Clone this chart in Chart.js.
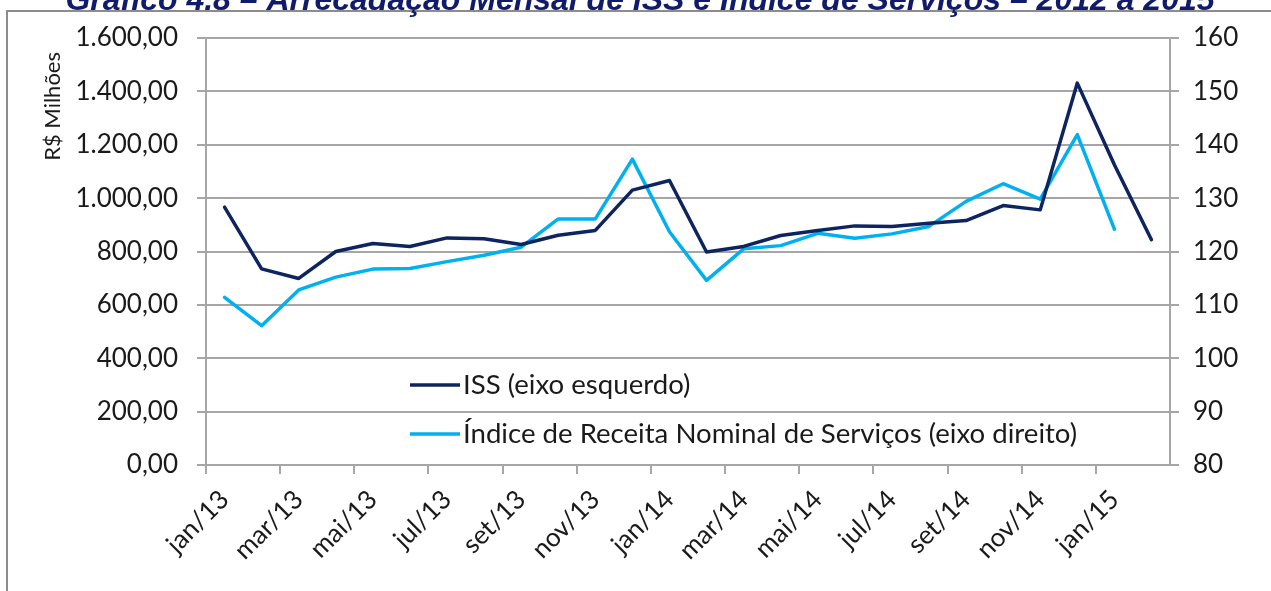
<!DOCTYPE html>
<html>
<head>
<meta charset="utf-8">
<script src="https://cdn.jsdelivr.net/npm/chart.js@4/dist/chart.umd.min.js"></script>
<style>
  html, body { margin: 0; padding: 0; background: #fff; }
  canvas { display: block; }
</style>
</head>
<body>
<canvas id="chart" width="1271" height="591"></canvas>
<script>
const months = ['jan/13', 'fev/13', 'mar/13', 'abr/13', 'mai/13', 'jun/13', 'jul/13', 'ago/13', 'set/13', 'out/13', 'nov/13', 'dez/13',
    'jan/14', 'fev/14', 'mar/14', 'abr/14', 'mai/14', 'jun/14', 'jul/14', 'ago/14', 'set/14', 'out/14', 'nov/14', 'dez/14',
    'jan/15', 'fev/15'];
const issValues = [966, 735, 699, 800, 830, 819, 851, 848, 826, 861, 879, 1030,
    1066, 798, 819, 860, 879, 896, 894, 906, 916, 972, 956, 1431,
    1125, 844];
const indiceValues = [111.4, 106.1, 112.8, 115.2, 116.7, 116.8, 118.1, 119.3, 120.8, 126.1, 126.1, 137.3,
    123.7, 114.6, 120.5, 121.1, 123.4, 122.5, 123.3, 124.7, 129.4, 132.7, 129.8, 141.9,
    124.2];
const leftTicks = [0, 1600, 200];   // min, max, step
const rightTicks = [80, 160, 10];

const titleText = 'Gráfico 4.8 – Arrecadação Mensal de ISS e Índice de Serviços – 2012 a 2015';
const yTitle = 'R$ Milhões';
const gridGray = '#a6a6a6';
const textColor = '#1a1a1a';

function fmtBR(v) {
    const parts = v.toFixed(2).split('.');
    parts[0] = parts[0].replace(/\B(?=(\d{3})+(?!\d))/g, '.');
    return parts.join(',');
}

// frame + cut-off title behind the chart
const framePlugin = {
    id: 'frame',
    beforeDraw(chart) {
        const ctx = chart.ctx;
        ctx.save();
        ctx.strokeStyle = '#8c8c8c';
        ctx.lineWidth = 2;
        ctx.beginPath();
        ctx.moveTo(7, chart.height);
        ctx.lineTo(7, 11);
        ctx.lineTo(chart.width, 11);
        ctx.stroke();
        ctx.fillStyle = '#101c6a';
        ctx.font = 'italic bold 32px "Liberation Sans", Arial, sans-serif';
        ctx.textAlign = 'center';
        ctx.textBaseline = 'alphabetic';
        ctx.fillText(titleText, 640, 10);
        ctx.restore();
    }
};

// legend inside the plot area + axis title near the top, like the Excel original
const innerLegend = {
    id: 'innerLegend',
    afterDraw(chart) {
        const ctx = chart.ctx;
        const area = chart.chartArea;
        ctx.save();
        ctx.font = '27.6px Lato, sans-serif';
        ctx.textBaseline = 'middle';
        ctx.textAlign = 'left';
        chart.data.datasets.forEach((ds, i) => {
            const y = area.top + 347 + i * 49;
            const x = area.left + 204;
            ctx.strokeStyle = ds.borderColor;
            ctx.lineWidth = 3.5;
            ctx.beginPath();
            ctx.moveTo(x, y);
            ctx.lineTo(x + 50, y);
            ctx.stroke();
            ctx.fillStyle = textColor;
            ctx.fillText(ds.label, x + 53, y);
        });

        ctx.translate(53, area.top + 14);
        ctx.rotate(-Math.PI / 2);
        ctx.font = '22px Lato, sans-serif';
        ctx.textAlign = 'right';
        ctx.fillText(yTitle, 0, 0);
        ctx.restore();
    }
};

new Chart(document.getElementById('chart'), {
    type: 'line',
    data: {
        labels: months,
        datasets: [{
            label: 'ISS (eixo esquerdo)',
            data: issValues,
            yAxisID: 'y',
            borderColor: '#0e2461',
            backgroundColor: '#0e2461',
            borderWidth: 3.5,
            pointRadius: 0,
            borderJoinStyle: 'round',
            borderCapStyle: 'round',
            tension: 0
        }, {
            label: 'Índice de Receita Nominal de Serviços (eixo direito)',
            data: indiceValues,
            yAxisID: 'y1',
            borderColor: '#00b0f0',
            backgroundColor: '#00b0f0',
            borderWidth: 3.5,
            pointRadius: 0,
            borderJoinStyle: 'round',
            borderCapStyle: 'round',
            tension: 0
        }]
    },
    options: {
        responsive: false,
        animation: false,
        layout: {
            padding: { top: 38, left: 0, right: 0, bottom: 0 }
        },
        plugins: {
            legend: { display: false },
            tooltip: { enabled: false }
        },
        scales: {
            x: {
                offset: true,
                afterFit(scale) { scale.height = 126; },
                grid: {
                    offset: true,
                    drawOnChartArea: false,
                    tickLength: 9,
                    lineWidth: 2,
                    color: ctx => ctx.index % 2 === 0 ? gridGray : 'rgba(0,0,0,0)'
                },
                border: { color: gridGray, width: 2 },
                ticks: {
                    autoSkip: false,
                    minRotation: 45,
                    maxRotation: 45,
                    padding: 10,
                    color: textColor,
                    font: { family: 'Lato', size: 26 },
                    callback(value, index) { return index % 2 === 0 ? months[index] : ''; }
                }
            },
            y: {
                position: 'left',
                min: leftTicks[0],
                max: leftTicks[1],
                afterFit(scale) { scale.width = 206; },
                grid: { color: gridGray, lineWidth: 2, tickLength: 9 },
                border: { color: gridGray, width: 2 },
                ticks: {
                    stepSize: leftTicks[2],
                    padding: 19,
                    color: textColor,
                    font: { family: 'Lato', size: 26 },
                    callback: v => fmtBR(v)
                }
            },
            y1: {
                position: 'right',
                min: rightTicks[0],
                max: rightTicks[1],
                afterFit(scale) { scale.width = 101; },
                grid: { drawOnChartArea: false, color: gridGray, lineWidth: 2, tickLength: 9 },
                border: { color: gridGray, width: 2 },
                ticks: {
                    stepSize: rightTicks[2],
                    padding: 14,
                    color: textColor,
                    font: { family: 'Lato', size: 26 }
                }
            }
        }
    },
    plugins: [framePlugin, innerLegend]
});
</script>
</body>
</html>
